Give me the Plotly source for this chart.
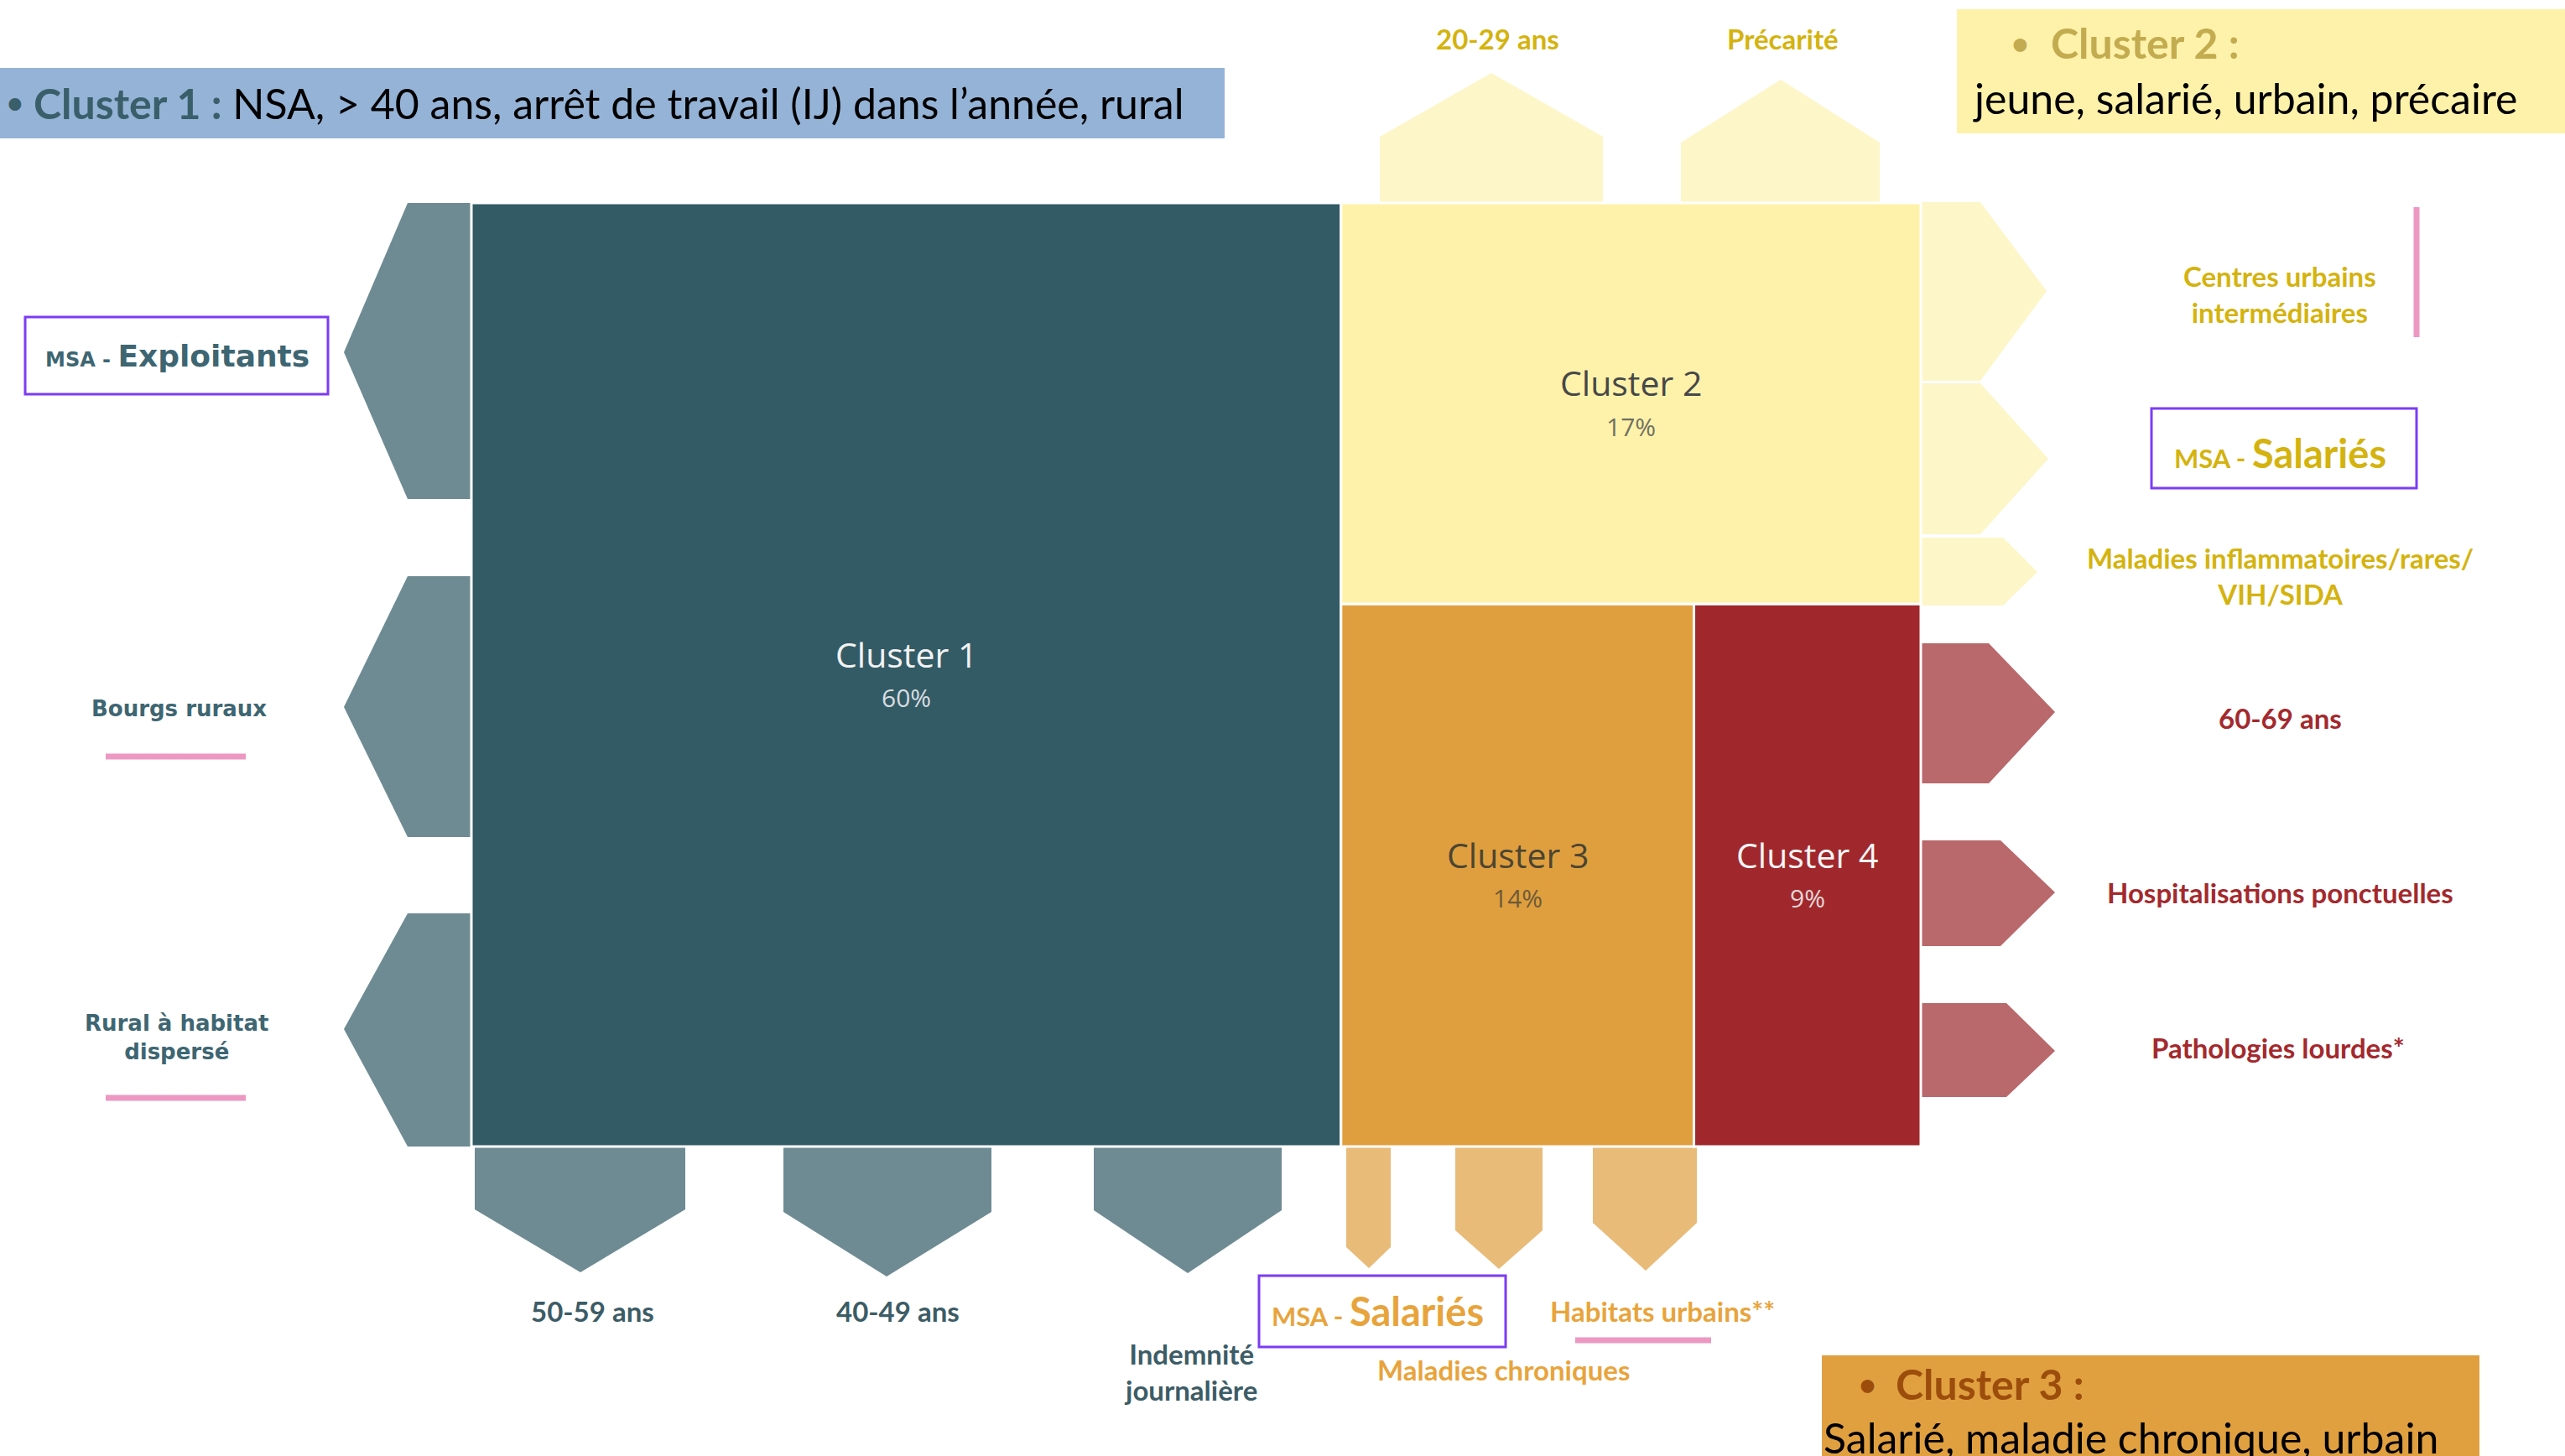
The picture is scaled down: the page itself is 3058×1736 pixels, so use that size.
import plotly.graph_objects as go

# ------------------------------------------------------------------ data
clusters = ["Cluster 1", "Cluster 2", "Cluster 3", "Cluster 4"]
shares = [60, 17, 14, 9]
share_labels = ["60%", "17%", "14%", "9%"]

c1_left_labels = ["MSA - Exploitants", "Bourgs ruraux", "Rural à habitat<br>dispersé"]
c1_bottom_labels = ["50-59 ans", "40-49 ans", "Indemnité<br>journalière"]
c2_top_labels = ["20-29 ans", "Précarité"]
c2_right_labels = ["Centres urbains<br>intermédiaires", "MSA - Salariés",
                   "Maladies inflammatoires/rares/<br>VIH/SIDA"]
c3_bottom_labels = ["MSA - Salariés", "Maladies chroniques", "Habitats urbains**"]
c4_right_labels = ["60-69 ans", "Hospitalisations ponctuelles", "Pathologies lourdes*"]

header_titles = ["Cluster 1 :", "Cluster 2 :", "Cluster 3 :"]
header_texts = ["NSA, > 40 ans, arrêt de travail (IJ) dans l’année, rural",
                "jeune, salarié, urbain, précaire",
                "Salarié, maladie chronique, urbain"]

# ------------------------------------------------------------------ styles / layout
W, H = 3058, 1736
X0, X1, Y0, Y1 = 562, 2290, 242, 1367

fill_cols = ["#335b66", "#fef2ab", "#e09f3e", "#a0282c"]
arrow_cols = ["#6e8b93", "#fdf6c9", "#e9bb78", "#b9686b"]
name_cols = ["#f2f2f2", "#474747", "#4b4532", "#f5f5f5"]
pct_cols = ["#d8dde0", "#707060", "#6e5a38", "#e8d8d8"]

TEAL = "#3e6672"
TEAL2 = "#3c5c66"
YEL = "#d4b30f"
RED = "#a3292d"
ORA = "#e8a43c"
PINK = "#ec98c2"
PURP = "#7c3cf4"

LBL_FONT = "Lato, 'Open Sans', sans-serif"
WIDE_FONT = "'DejaVu Sans', Verdana, sans-serif"
CL_FONT = "'Open Sans', 'Noto Sans', sans-serif"
LS = 33   # label font size
HF = 50   # header font size


def treemap_rects(vals, x0, x1, y0, y1):
    tot = sum(vals)
    xa = x0 + (x1 - x0) * vals[0] / tot
    rest = sum(vals[1:])
    yb = y0 + (y1 - y0) * vals[1] / rest
    xc = xa + (x1 - xa) * vals[2] / (vals[2] + vals[3])
    return [(x0, xa, y0, y1), (xa, x1, y0, yb), (xa, xc, yb, y1), (xc, x1, yb, y1)]


rects = treemap_rects(shares, X0, X1, Y0, Y1)

fig = go.Figure()

# ---- arrows (shapes)
shapes = []


def poly(pts, color):
    d = "M " + " L ".join(f"{x},{y}" for x, y in pts) + " Z"
    shapes.append(dict(type="path", path=d, xref="x", yref="y", fillcolor=color,
                       line=dict(width=0), layer="below"))


# left arrows of cluster 1: (y_top, y_bot, y_tip, x_tip, x_slant)
for yt, yb_, ym, xt, xs in [(242, 595, 420, 410, 486), (687, 998, 843, 410, 486),
                            (1089, 1367, 1227, 410, 486)]:
    poly([(X0 + 2, yt), (xs, yt), (xt, ym), (xs, yb_), (X0 + 2, yb_)], arrow_cols[0])

# bottom arrows: (x_l, x_r, y_straight, y_tip, x_tip)
for xl, xr, ys, yt, xt in [(566, 817, 1442, 1517, 692), (934, 1182, 1445, 1522, 1057),
                           (1304, 1528, 1443, 1518, 1416)]:
    poly([(xl, Y1 - 2), (xr, Y1 - 2), (xr, ys), (xt, yt), (xl, ys)], arrow_cols[0])
for xl, xr, ys, yt, xt in [(1605, 1658, 1487, 1512, 1632), (1735, 1839, 1467, 1513, 1787),
                           (1899, 2023, 1458, 1515, 1962)]:
    poly([(xl, Y1 - 2), (xr, Y1 - 2), (xr, ys), (xt, yt), (xl, ys)], arrow_cols[2])

# top arrows cluster 2
for xl, xr, ys, yt, xt in [(1645, 1911, 163, 87, 1778), (2004, 2241, 170, 95, 2123)]:
    poly([(xl, Y0 + 2), (xr, Y0 + 2), (xr, ys), (xt, yt), (xl, ys)], arrow_cols[1])

# right arrows: (y_top, y_bot, y_tip, x_tip, x_slant)
for yt, yb_, ym, xt, xs in [(241, 454, 347, 2440, 2361), (457, 637, 547, 2442, 2361),
                            (641, 722, 682, 2429, 2388)]:
    poly([(X1 - 2, yt), (xs, yt), (xt, ym), (xs, yb_), (X1 - 2, yb_)], arrow_cols[1])
for yt, yb_, ym, xt, xs in [(767, 934, 849, 2450, 2371), (1002, 1128, 1064, 2450, 2385),
                            (1196, 1308, 1253, 2450, 2392)]:
    poly([(X1 - 2, yt), (xs, yt), (xt, ym), (xs, yb_), (X1 - 2, yb_)], arrow_cols[3])

# header boxes
for (bx0, bx1, by0, by1, col) in [(0, 1460, 81, 165, "#95b3d7"),
                                  (2333, 3058, 11, 159, "#fef2aa"),
                                  (2172, 2956, 1616, 1760, "#e0a040")]:
    shapes.append(dict(type="rect", xref="x", yref="y", x0=bx0, x1=bx1, y0=by0, y1=by1,
                       fillcolor=col, line=dict(width=0), layer="below"))

# purple boxes
for (bx0, bx1, by0, by1) in [(30, 391, 378, 470), (2565, 2881, 487, 582), (1501, 1795, 1521, 1606)]:
    shapes.append(dict(type="rect", xref="x", yref="y", x0=bx0, x1=bx1, y0=by0, y1=by1,
                       fillcolor="rgba(0,0,0,0)", line=dict(color=PURP, width=3)))

# pink marks
for (lx0, ly0, lx1, ly1) in [(126, 902, 293, 902), (126, 1309, 293, 1309),
                             (1878, 1598, 2040, 1598), (2881, 247, 2881, 402)]:
    shapes.append(dict(type="line", xref="x", yref="y", x0=lx0, y0=ly0, x1=lx1, y1=ly1,
                       line=dict(color=PINK, width=7)))

# ---- treemap rectangles
for (rx0, rx1, ry0, ry1), col, name in zip(rects, fill_cols, clusters):
    fig.add_trace(go.Scatter(x=[rx0, rx1, rx1, rx0, rx0], y=[ry0, ry0, ry1, ry1, ry0],
                             mode="lines", fill="toself", fillcolor=col,
                             line=dict(color="white", width=3), name=name,
                             hoverinfo="skip", showlegend=False))

ann = []


def txt(x, y, t, size, color, family=LBL_FONT, xanchor="center", bold=True):
    ann.append(dict(x=x, y=y, xref="x", yref="y", text=(f"<b>{t}</b>" if bold else t),
                    showarrow=False, xanchor=xanchor, yanchor="middle",
                    font=dict(size=size, color=color, family=family)))


# cluster labels
for (rx0, rx1, ry0, ry1), name, pct, nc, pc in zip(rects, clusters, share_labels, name_cols, pct_cols):
    cx, cy = (rx0 + rx1) / 2, (ry0 + ry1) / 2
    txt(cx, cy - 25, name, 41, nc, CL_FONT, bold=False)
    txt(cx, cy + 27, pct, 30, pc, CL_FONT, bold=False)

# left labels (cluster 1)
msa, rest = c1_left_labels[0].split(" - ")
ann.append(dict(x=211, y=424, xref="x", yref="y", showarrow=False,
                text=f"<b><span style='font-size:24px'>{msa} - </span>{rest}</b>",
                font=dict(size=36, color=TEAL, family=WIDE_FONT)))
txt(213, 845, c1_left_labels[1], 26, TEAL, WIDE_FONT)
txt(210, 1237, c1_left_labels[2], 26, TEAL, WIDE_FONT)

# bottom labels cluster 1
txt(706, 1563, c1_bottom_labels[0], LS, TEAL2)
txt(1070, 1563, c1_bottom_labels[1], LS, TEAL2)
txt(1419, 1635, c1_bottom_labels[2], LS, TEAL2)

# bottom labels cluster 3
msa, sal = c3_bottom_labels[0].split(" - ")
ann.append(dict(x=1642, y=1563, xref="x", yref="y", showarrow=False,
                text=f"<b><span style='font-size:31px'>{msa} - </span>{sal}</b>",
                font=dict(size=47, color=ORA, family=LBL_FONT)))
txt(1792, 1633, c3_bottom_labels[1], LS, ORA)
txt(1982, 1563, c3_bottom_labels[2], LS, ORA)

# top labels cluster 2
txt(1785, 46, c2_top_labels[0], LS, YEL)
txt(2125, 46, c2_top_labels[1], LS, YEL)

# right labels cluster 2
txt(2718, 350, c2_right_labels[0], LS, YEL)
msa, sal = c2_right_labels[1].split(" - ")
ann.append(dict(x=2718, y=540, xref="x", yref="y", showarrow=False,
                text=f"<b><span style='font-size:31px'>{msa} - </span>{sal}</b>",
                font=dict(size=47, color=YEL, family=LBL_FONT)))
txt(2718, 686, c2_right_labels[2], LS, YEL)

# right labels cluster 4
txt(2718, 856, c4_right_labels[0], LS, RED)
txt(2718, 1064, c4_right_labels[1], LS, RED)
txt(2716, 1249, c4_right_labels[2], LS, RED)

# headers
txt(6, 121, "•", 34, "#3b5f6a", LBL_FONT, xanchor="left", bold=True)
ann.append(dict(x=38, y=123, xref="x", yref="y", showarrow=False, xanchor="left",
                text=f"<b><span style='color:#3b5f6a'>{header_titles[0]}</span></b> {header_texts[0]}",
                font=dict(size=HF, color="#000000", family=LBL_FONT)))

txt(2408, 51, "•", 36, "#c3ab4f", LBL_FONT, xanchor="center")
txt(2443, 51, header_titles[1], HF, "#c3ab4f", LBL_FONT, xanchor="left")
txt(2350, 117, header_texts[1], HF, "#000000", LBL_FONT, xanchor="left", bold=False)

txt(2226, 1650, "•", 36, "#9c4d0c", LBL_FONT, xanchor="center")
txt(2258, 1650, header_titles[2], HF, "#9c4d0c", LBL_FONT, xanchor="left")
txt(2172, 1714, header_texts[2], HF, "#000000", LBL_FONT, xanchor="left", bold=False)

fig.update_layout(
    width=W, height=H, margin=dict(l=0, r=0, t=0, b=0),
    paper_bgcolor="white", plot_bgcolor="white",
    xaxis=dict(range=[0, W], visible=False, fixedrange=True),
    yaxis=dict(range=[H, 0], visible=False, fixedrange=True),
    shapes=shapes, annotations=ann, showlegend=False,
)

fig.write_html("out.html", config={"displayModeBar": False},
               post_script="document.body.style.margin='0px';document.body.style.overflow='hidden';")
